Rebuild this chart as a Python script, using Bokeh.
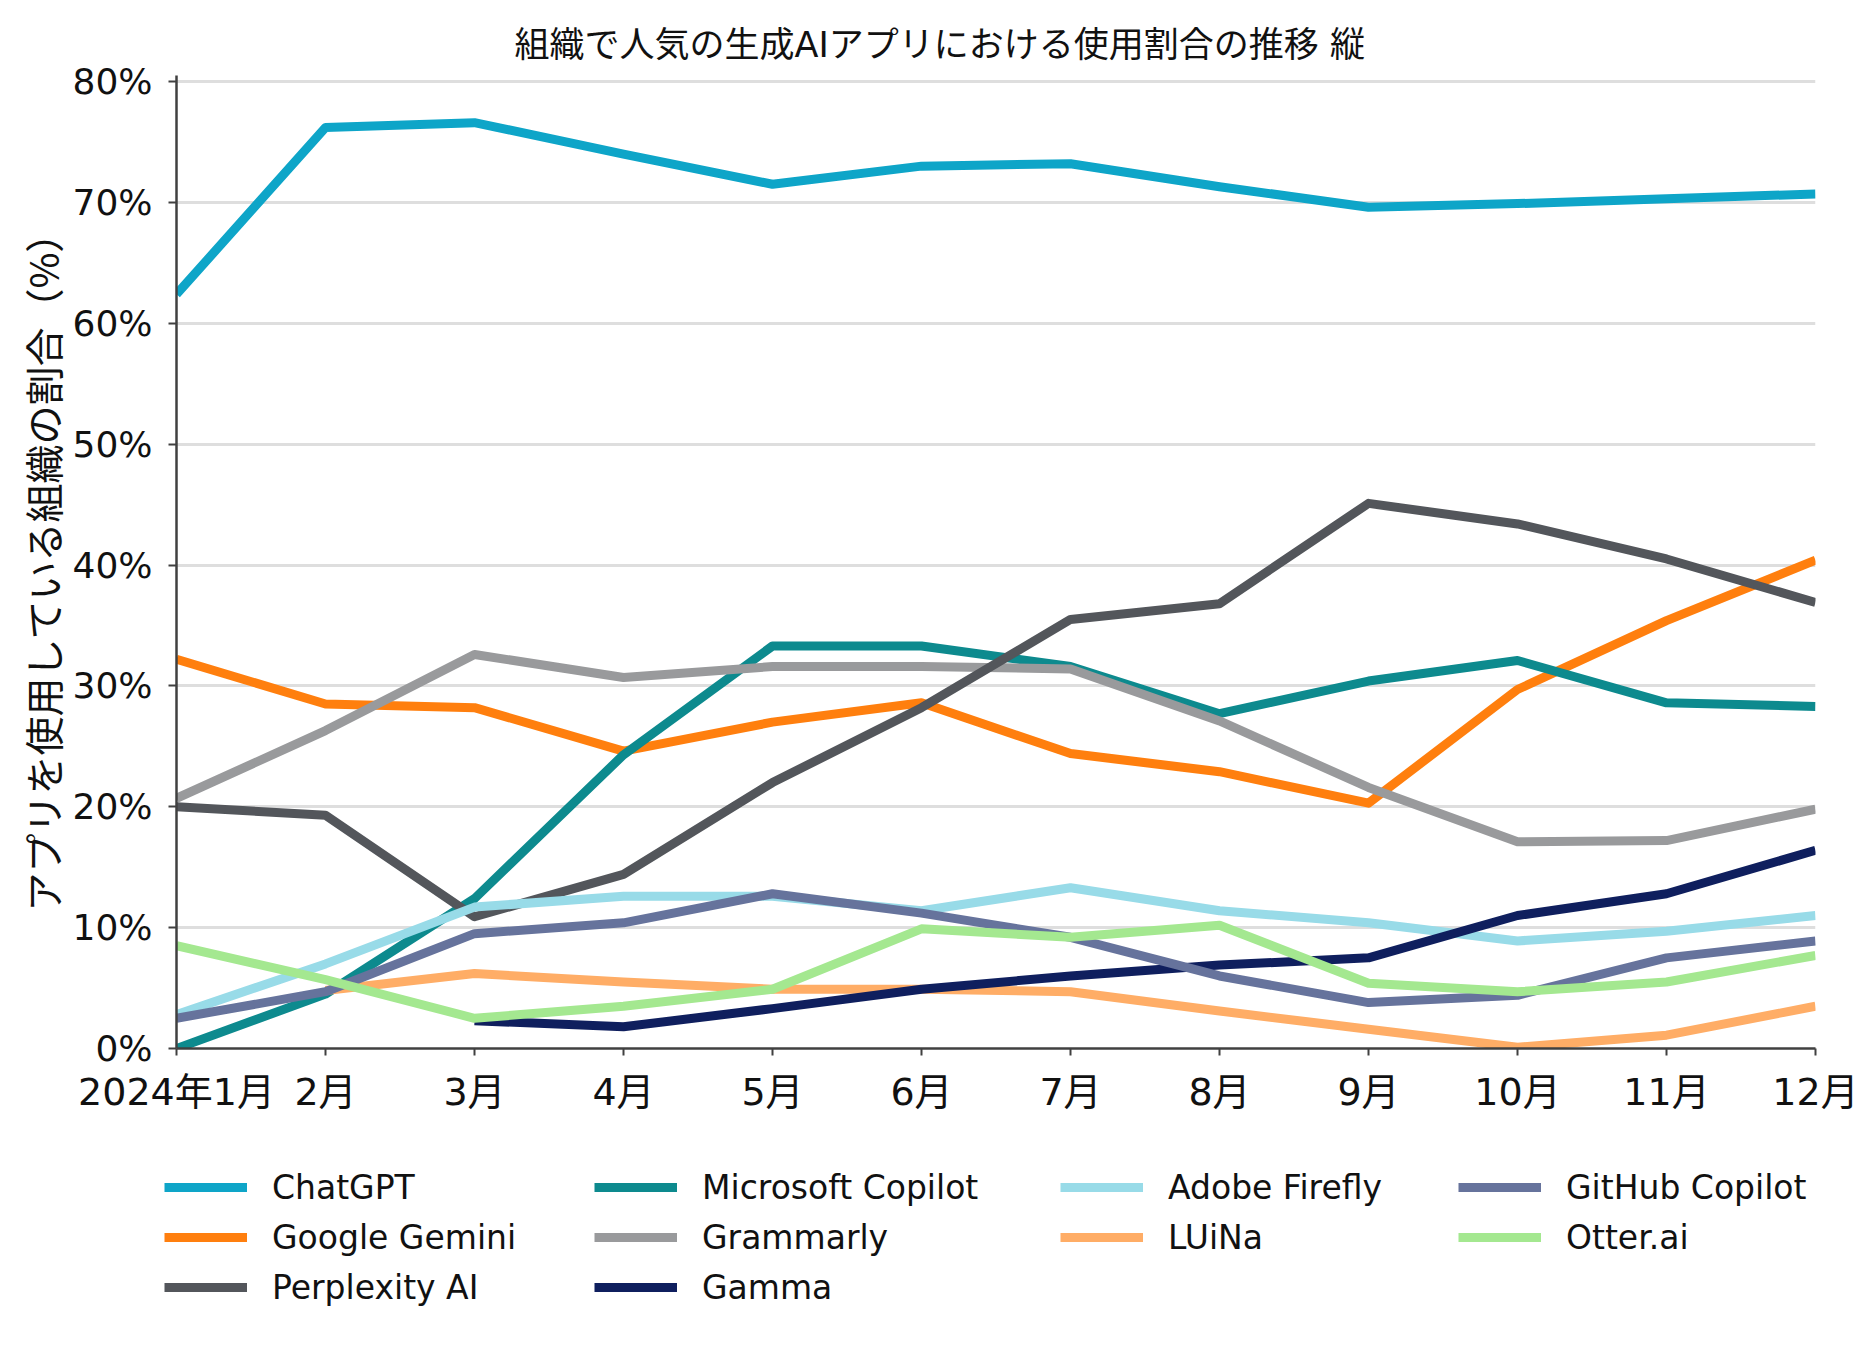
import numpy as np
from bokeh.plotting import figure
from bokeh.layouts import column
from bokeh.models import Range1d, FixedTicker, Legend, LegendItem
from bokeh.embed import file_html
from bokeh.resources import INLINE

# ---------------- data ----------------
months = ["2024年1月", "2月", "3月", "4月", "5月", "6月",
          "7月", "8月", "9月", "10月", "11月", "12月"]
y_ticks = [0, 10, 20, 30, 40, 50, 60, 70, 80]
y_tick_labels = ["0%", "10%", "20%", "30%", "40%", "50%", "60%", "70%", "80%"]

nan = float("nan")
chatgpt = [62.4, 76.2, 76.6, 74.0, 71.5, 73.0, 73.2, 71.3, 69.6, 69.9, 70.3, 70.7]
google_gemini = [32.2, 28.5, 28.2, 24.6, 27.0, 28.6, 24.4, 22.9, 20.3, 29.7, 35.4, 40.4]
perplexity_ai = [20.0, 19.3, 10.9, 14.4, 22.0, 28.2, 35.5, 36.8, 45.1, 43.4, 40.5, 36.9]
microsoft_copilot = [0.0, 4.5, 12.4, 24.3, 33.3, 33.3, 31.6, 27.7, 30.4, 32.1, 28.6, 28.3]
grammarly = [20.7, 26.3, 32.6, 30.7, 31.6, 31.6, 31.4, 27.1, 21.6, 17.1, 17.2, 19.8]
gamma = [nan, nan, 2.3, 1.8, 3.3, 4.9, 6.0, 6.9, 7.5, 11.0, 12.8, 16.4]
adobe_firefly = [2.8, 7.0, 11.7, 12.6, 12.6, 11.4, 13.3, 11.4, 10.4, 8.9, 9.7, 11.0]
luina = [nan, 4.8, 6.2, 5.5, 4.9, 4.9, 4.7, 3.1, 1.6, 0.1, 1.1, 3.5]
github_copilot = [2.5, 4.7, 9.5, 10.4, 12.8, 11.2, 9.2, 6.0, 3.8, 4.4, 7.5, 8.9]
otter_ai = [8.5, 5.7, 2.5, 3.5, 4.9, 9.9, 9.2, 10.2, 5.4, 4.7, 5.5, 7.7]

series_names = ["ChatGPT", "Google Gemini", "Perplexity AI", "Microsoft Copilot",
                "Grammarly", "Gamma", "Adobe Firefly", "LUiNa",
                "GitHub Copilot", "Otter.ai"]
series_values = [chatgpt, google_gemini, perplexity_ai, microsoft_copilot,
                 grammarly, gamma, adobe_firefly, luina, github_copilot, otter_ai]
series_colors = ["#0ea5c8", "#ff7f0e", "#53565b", "#0d8a8e",
                 "#999a9c", "#0f1f5e", "#98dbe8", "#ffad66",
                 "#66739c", "#a4e890"]
# drawing order (later on top)
draw_order = ["ChatGPT", "Google Gemini", "Microsoft Copilot", "Grammarly",
              "Perplexity AI", "Adobe Firefly", "LUiNa", "Gamma",
              "GitHub Copilot", "Otter.ai"]
# legend columns
legend_columns = [["ChatGPT", "Google Gemini", "Perplexity AI"],
                  ["Microsoft Copilot", "Grammarly", "Gamma"],
                  ["Adobe Firefly", "LUiNa"],
                  ["GitHub Copilot", "Otter.ai"]]

title_text = "組織で人気の生成AIアプリにおける使用割合の推移 縦"
y_label = "アプリを使用している組織の割合（%）"

LAT = "DejaVu Sans, Noto Sans CJK JP"
CJK = "Noto Sans CJK JP"

W = 1859
H_MAIN = 1150
H_LEG = 184
FRAME_LEFT = 176
FRAME_RIGHT_BORDER = 44

# ---------------- main figure ----------------
x_idx = list(range(len(months)))
p = figure(width=W, height=H_MAIN, output_backend="svg", toolbar_location=None,
           x_range=Range1d(0, len(months) - 1), y_range=Range1d(0, 80.5),
           min_border_left=FRAME_LEFT, min_border_right=FRAME_RIGHT_BORDER,
           min_border_top=75, min_border_bottom=H_MAIN - 1048,
           title=title_text)
p.background_fill_color = "white"
p.border_fill_color = "white"
p.outline_line_color = None

p.title.align = "left"
p.title.offset = 338
p.title.text_font = LAT
p.title.text_font_size = "35px"
p.title.text_font_style = "normal"
p.title.text_color = "#111111"
p.title.standoff = 22

# grid
p.xgrid.grid_line_color = None
p.ygrid.ticker = FixedTicker(ticks=y_ticks)
p.ygrid.grid_line_color = "#dedede"
p.ygrid.grid_line_width = 3

# y axis
p.yaxis.ticker = FixedTicker(ticks=y_ticks)
p.yaxis.major_label_overrides = {t: l for t, l in zip(y_ticks, y_tick_labels)}
p.yaxis.axis_label = y_label
p.yaxis.axis_label_text_font = CJK
p.yaxis.axis_label_text_font_size = "39px"
p.yaxis.axis_label_text_font_style = "normal"
p.yaxis.axis_label_text_color = "#111111"
p.yaxis.axis_label_standoff = -1
p.yaxis.major_label_text_font = LAT
p.yaxis.major_label_text_font_size = "36px"
p.yaxis.major_label_text_color = "#111111"
p.yaxis.major_label_standoff = 16
p.yaxis.major_tick_out = 8
p.yaxis.major_tick_in = 0
p.yaxis.minor_tick_line_color = None

# x axis
p.xaxis.ticker = FixedTicker(ticks=x_idx)
p.xaxis.major_label_overrides = {i: m for i, m in zip(x_idx, months)}
p.xaxis.major_label_text_font = LAT
p.xaxis.major_label_text_font_size = "38px"
p.xaxis.major_label_text_color = "#111111"
p.xaxis.major_label_standoff = 14
p.xaxis.major_tick_out = 7
p.xaxis.major_tick_in = 0
p.xaxis.minor_tick_line_color = None

for ax in (p.xaxis, p.yaxis):
    ax.axis_line_color = "#404040"
    ax.axis_line_width = 2.5
    ax.major_tick_line_color = "#404040"
    ax.major_tick_line_width = 2

for name in draw_order:
    i = series_names.index(name)
    p.line(x_idx, series_values[i], line_color=series_colors[i],
           line_width=9, line_join="round")

# ---------------- legend strip ----------------
q = figure(width=W, height=H_LEG, output_backend="svg", toolbar_location=None,
           x_axis_location=None, y_axis_location=None,
           x_range=Range1d(0, 1), y_range=Range1d(0, 1),
           min_border=0)
q.grid.visible = False
q.outline_line_color = None
q.background_fill_color = "white"
q.border_fill_color = "white"

col_page_x = [166, 596, 1062, 1460]
if "frame_align" in q.properties():
    q.frame_align = False
    p.frame_align = False
    base_x = 0
else:
    q.min_border_left = FRAME_LEFT
    q.min_border_right = FRAME_RIGHT_BORDER
    base_x = FRAME_LEFT

legend_renderers = {}
for i, name in enumerate(series_names):
    legend_renderers[name] = q.line(x_idx, series_values[i],
                                    line_color=series_colors[i],
                                    line_width=9, visible=False)

row_h = 50
top_gap = 12
for px, names in zip(col_page_x, legend_columns):
    items = [LegendItem(label=n, renderers=[legend_renderers[n]]) for n in names]
    lg = Legend(items=items,
                location=(max(px - 2 - base_x, 0), H_LEG - top_gap - row_h * len(names)),
                orientation="vertical", padding=0, margin=0, spacing=0,
                glyph_width=83, glyph_height=row_h, label_height=row_h,
                label_standoff=25, border_line_color=None,
                background_fill_alpha=0, inactive_fill_alpha=0,
                label_text_font=LAT, label_text_font_size="33px",
                label_text_color="#111111")
    q.add_layout(lg, "center")

layout = column(p, q, spacing=0)
open("out.html", "w").write(file_html(layout, INLINE))
